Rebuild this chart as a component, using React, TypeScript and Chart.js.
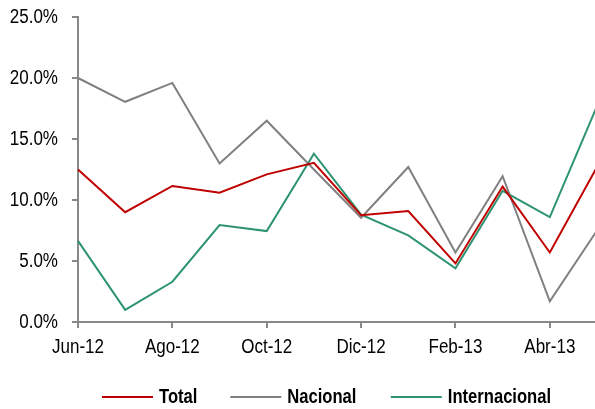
import React, { useEffect, useRef } from "react";
import { Chart, registerables } from "chart.js";

Chart.register(...registerables);

const categories = ["Jun-12", "Jul-12", "Ago-12", "Sep-12", "Oct-12", "Nov-12", "Dic-12", "Ene-13", "Feb-13", "Mar-13", "Abr-13", "May-13"];
const totalValues = [12.5, 9.0, 11.15, 10.6, 12.1, 13.05, 8.75, 9.1, 4.8, 11.1, 5.7, 12.7];
const nacionalValues = [20.0, 18.05, 19.6, 13.0, 16.5, 12.5, 8.55, 12.7, 5.7, 11.95, 1.7, 7.5];
const internacionalValues = [6.65, 1.0, 3.3, 7.95, 7.45, 13.8, 8.8, 7.1, 4.4, 10.75, 8.6, 17.7];
const seriesNames = ["Total", "Nacional", "Internacional"];
const seriesColors = ["#C00000", "#808080", "#2E9373"];

const FONT = "'Liberation Sans', Arial, sans-serif";
const AXIS = "#898989";
const SQUEEZE = 0.83; // narrow face look

const legendPlugin = {
  id: "customLegend",
  afterDraw(chart: any) {
    const ctx = chart.ctx;
    ctx.save();
    ctx.font = `bold 20px ${FONT}`;
    ctx.textBaseline = "middle";
    ctx.textAlign = "left";
    let x = 102;
    const y = 397;
    chart.data.datasets.forEach((ds: any) => {
      ctx.strokeStyle = ds.borderColor;
      ctx.lineWidth = 2;
      ctx.beginPath();
      ctx.moveTo(x, y);
      ctx.lineTo(x + 51, y);
      ctx.stroke();
      ctx.fillStyle = "#000";
      const w = ctx.measureText(ds.label).width * 0.87;
      ctx.fillText(ds.label, x + 57, y, w);
      x += 57 + w + 31;
    });
    ctx.restore();
  },
};

export default function App() {
  const ref = useRef<HTMLCanvasElement>(null);
  useEffect(() => {
    const canvas = ref.current!;
    const c2d: any = canvas.getContext("2d");
    const origFill = c2d.fillText.bind(c2d);
    c2d.fillText = (text: string, x: number, y: number, maxWidth?: number) => {
      const w = c2d.measureText(text).width * SQUEEZE;
      origFill(text, x, y, maxWidth !== undefined ? Math.min(maxWidth, w) : w);
    };
    const data = [totalValues, nacionalValues, internacionalValues];
    const chart = new Chart(canvas, {
      type: "line",
      data: {
        labels: categories,
        datasets: seriesNames.map((name, i) => ({
          label: name,
          data: data[i],
          borderColor: seriesColors[i],
          backgroundColor: seriesColors[i],
          borderWidth: 2,
          pointRadius: 0,
          tension: 0,
          fill: false,
        })),
      },
      options: {
        animation: false,
        responsive: false,
        layout: { padding: { top: 17, right: 3, left: 0, bottom: 0 } },
        plugins: { legend: { display: false }, tooltip: { enabled: false } },
        scales: {
          x: {
            offset: false,
            afterFit: (s: any) => {
              s.height = 87;
              s.paddingLeft = 0;
              s.paddingRight = 0;
            },
            border: { display: true, color: AXIS, width: 2 },
            grid: { display: true, drawOnChartArea: false, tickLength: 6, color: AXIS, lineWidth: 2 },
            ticks: {
              autoSkip: false,
              maxRotation: 0,
              padding: 7,
              color: "#000",
              font: { family: FONT, size: 20.5 },
              callback: (_v: any, i: number) => (i % 2 === 0 ? categories[i] : null),
            },
          },
          y: {
            min: 0,
            max: 25,
            afterFit: (s: any) => {
              s.width = 78;
              s.paddingTop = 0;
              s.paddingBottom = 0;
            },
            border: { display: true, color: AXIS, width: 2 },
            grid: { display: true, drawOnChartArea: false, tickLength: 6, color: AXIS, lineWidth: 2 },
            ticks: {
              stepSize: 5,
              padding: 14,
              color: "#000",
              font: { family: FONT, size: 20.5 },
              callback: (v: any) => Number(v).toFixed(1) + "%",
            },
          },
        },
      },
      plugins: [legendPlugin],
    });
    return () => {
      chart.destroy();
      c2d.fillText = origFill;
    };
  }, []);
  return (
    <div style={{ position: "fixed", left: 0, top: 0, width: 595, height: 409, overflow: "hidden", background: "#fff" }}>
      <canvas ref={ref} width={600} height={409} style={{ display: "block" }} />
    </div>
  );
}
